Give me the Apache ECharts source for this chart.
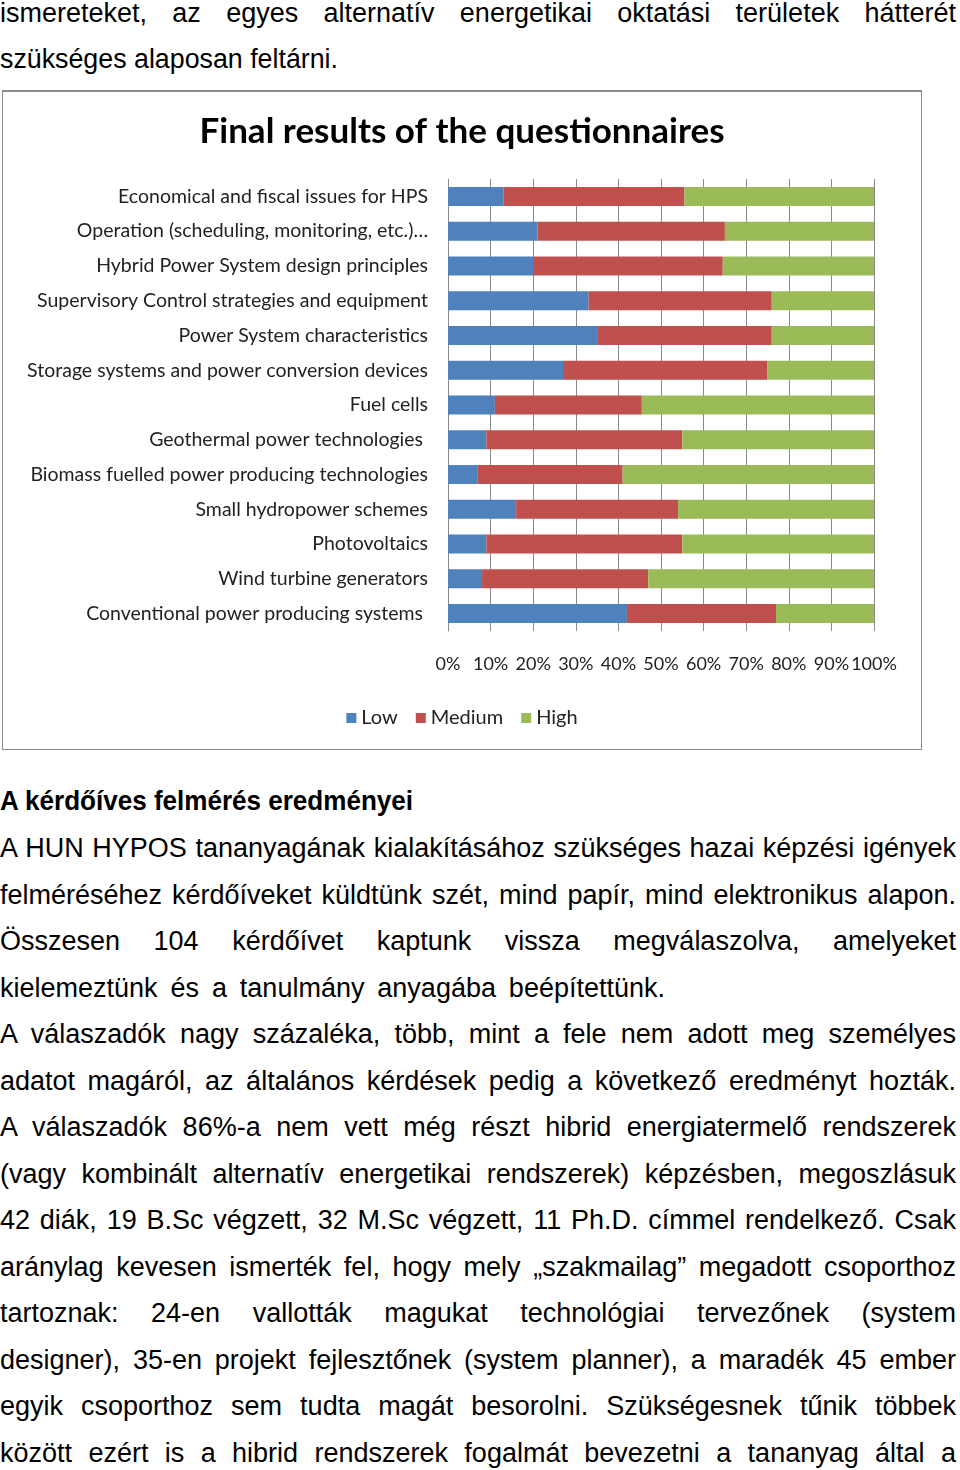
<!DOCTYPE html>
<html>
<head>
<meta charset="utf-8">
<script src="https://cdn.jsdelivr.net/npm/echarts@6/dist/echarts.min.js"></script>
<style>
  html, body { margin: 0; padding: 0; background: #fff; }
  body { width: 960px; height: 1470px; position: relative; overflow: hidden; }
  .ln { position: absolute; left: 0; height: 46px; line-height: 46px; white-space: nowrap;
        font-family: "Liberation Sans", "DejaVu Sans", sans-serif; font-size: 27px; color: #000; }
  .ln span { display: inline-block; transform-origin: 0 50%; }
  .ln.b { font-weight: bold; }
  #box { position: absolute; left: 2px; top: 90px; width: 918px; height: 657px;
         border: 1px solid #8c8c8c; border-top: 2px solid #8c8c8c; }
  #chart { width: 918px; height: 657px; }
</style>
</head>
<body>
<div id="box"><div id="chart"></div></div>
<script>
// ---- chart data ----
const categories = [
  'Economical and fiscal issues for HPS',
  'Operation (scheduling, monitoring, etc.)…',
  'Hybrid Power System design principles',
  'Supervisory Control strategies and equipment',
  'Power System characteristics',
  'Storage systems and power conversion devices',
  'Fuel cells',
  'Geothermal power technologies ',
  'Biomass fuelled power producing technologies',
  'Small hydropower schemes',
  'Photovoltaics',
  'Wind turbine generators',
  'Conventional power producing systems '
];
const lowValues    = [13, 21, 20, 33, 35, 27, 11, 9, 7, 16, 9, 8, 42];
const mediumValues = [42.5, 44, 44.5, 43, 41, 48, 34.5, 46, 34, 38, 46, 39, 35];
const highValues   = [44.5, 35, 35.5, 24, 24, 25, 54.5, 45, 59, 46, 45, 53, 23];
const xTickValues  = [0, 10, 20, 30, 40, 50, 60, 70, 80, 90, 100];

// ---- page text ----
const lines = [
  {y: 13,  t: 'ismereteket, az egyes alternatív energetikai oktatási területek hátterét', w: 956},
  {y: 59,  t: 'szükséges alaposan feltárni.', w: 338},
  {y: 801, t: 'A kérdőíves felmérés eredményei', w: 413, b: true},
  {y: 848, t: 'A HUN HYPOS tananyagának kialakításához szükséges hazai képzési igények', w: 956},
  {y: 895, t: 'felméréséhez kérdőíveket küldtünk szét, mind papír, mind elektronikus alapon.', w: 956},
  {y: 941, t: 'Összesen 104 kérdőívet kaptunk vissza megválaszolva, amelyeket', w: 956},
  {y: 988, t: 'kielemeztünk és a tanulmány anyagába beépítettünk.', w: 665},
  {y: 1034, t: 'A válaszadók nagy százaléka, több, mint a fele nem adott meg személyes', w: 956},
  {y: 1081, t: 'adatot magáról, az általános kérdések pedig a következő eredményt hozták.', w: 956},
  {y: 1127, t: 'A válaszadók 86%-a nem vett még részt hibrid energiatermelő rendszerek', w: 956},
  {y: 1174, t: '(vagy kombinált alternatív energetikai rendszerek) képzésben, megoszlásuk', w: 956},
  {y: 1220, t: '42 diák, 19 B.Sc végzett, 32 M.Sc végzett, 11 Ph.D. címmel rendelkező. Csak', w: 956},
  {y: 1267, t: 'aránylag kevesen ismerték fel, hogy mely „szakmailag” megadott csoporthoz', w: 956},
  {y: 1313, t: 'tartoznak: 24-en vallották magukat technológiai tervezőnek (system', w: 956},
  {y: 1360, t: 'designer), 35-en projekt fejlesztőnek (system planner), a maradék 45 ember', w: 956},
  {y: 1406, t: 'egyik csoporthoz sem tudta magát besorolni. Szükségesnek tűnik többek', w: 956},
  {y: 1453, t: 'között ezért is a hibrid rendszerek fogalmát bevezetni a tananyag által a', w: 956}
];

lines.forEach(function (l) {
  const d = document.createElement('div');
  d.className = 'ln' + (l.b ? ' b' : '');
  d.style.top = (l.y - 23) + 'px';
  const s = document.createElement('span');
  s.textContent = l.t;
  d.appendChild(s);
  document.body.appendChild(d);
  const w = s.getBoundingClientRect().width;
  const nSp = (l.t.match(/ /g) || []).length;
  if (w > l.w || nSp === 0) {
    s.style.transform = 'scaleX(' + (l.w / w) + ')';
  } else {
    s.style.wordSpacing = ((l.w - w) / nSp) + 'px';
  }
});

// ---- chart ----
const chart = echarts.init(document.getElementById('chart'), null, {renderer: 'canvas'});
const font = 'Lato, "Open Sans", sans-serif';
const colors = ['#4F81BD', '#C0504D', '#9BBB59'];
function barSeries(name, data) {
  return {
    name: name, type: 'bar', stack: 'total', data: data,
    barWidth: 19, animation: false
  };
}
chart.setOption({
  color: colors,
  animation: false,
  title: {
    text: 'Final results of the questionnaires',
    left: 'center', top: 17,
    textStyle: {fontFamily: font, fontSize: 35, fontWeight: 'bold', color: '#000'}
  },
  legend: {
    data: ['Low', 'Medium', 'High'],
    left: 'center', top: 611,
    icon: 'rect', itemWidth: 10, itemHeight: 10, itemGap: 18,
    textStyle: {fontFamily: font, fontSize: 20, color: '#222', padding: [0, 0, 0, 0]}
  },
  grid: {left: 445, top: 87, width: 426, height: 452, containLabel: false},
  xAxis: {
    type: 'value', min: 0, max: 100, interval: 10,
    axisLine: {show: false}, axisTick: {show: false},
    splitLine: {show: true, lineStyle: {color: '#8a8a8a', width: 1}},
    axisLabel: {
      margin: 24, fontFamily: font, fontSize: 18, color: '#222',
      formatter: function (v) { return xTickValues.indexOf(v) >= 0 ? v + '%' : ''; }
    }
  },
  yAxis: {
    type: 'category', data: categories, inverse: true,
    axisLine: {show: true, lineStyle: {color: '#8a8a8a'}},
    axisTick: {show: false},
    axisLabel: {margin: 20, fontFamily: font, fontSize: 19.5, color: '#222'}
  },
  series: [
    barSeries('Low', lowValues),
    barSeries('Medium', mediumValues),
    barSeries('High', highValues)
  ]
});
</script>
</body>
</html>
